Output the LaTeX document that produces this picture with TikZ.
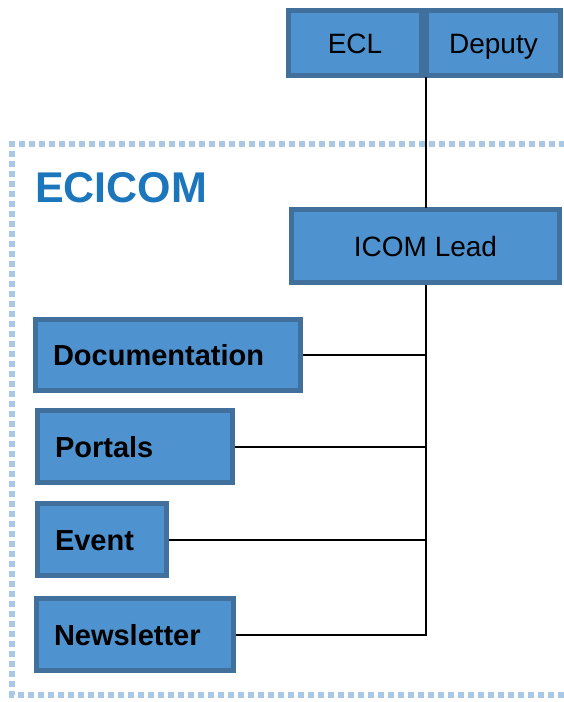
\documentclass[tikz,border=0pt]{standalone}
\usepackage{fontspec}
\setmainfont{Liberation Sans}
\definecolor{boxfill}{HTML}{4E93CF}
\definecolor{boxline}{HTML}{41709C}
\definecolor{framecol}{HTML}{A9C8E6}
\definecolor{titlecol}{HTML}{1B76BC}
\tikzset{
  box/.style={draw=boxline, fill=boxfill, line width=5pt, inner sep=0pt, text=black},
  topbox/.style={box, font=\fontsize{28}{30}\selectfont, align=center, text height=20pt, text depth=0pt},
  leftbox/.style={box, font=\bfseries\fontsize{29}{31}\selectfont, inner xsep=17.5pt, align=left, text height=21pt, text depth=0pt},
  conn/.style={draw=black, line width=2pt},
  frame/.style={draw=framecol, line width=6pt, dash pattern=on 6pt off 4pt}
}
\begin{document}
\begin{tikzpicture}[x=1pt, y=-1pt]
\useasboundingbox (0,0) rectangle (564,702);
% dotted frame
\draw[frame] (575,144) -- (12,144) -- (12,695) -- (575,695);
\node[anchor=base west, inner sep=0pt, text=titlecol, font=\bfseries\fontsize{43}{45}\selectfont] (title) at (35,202) {ECICOM};
% top boxes
\node[topbox, minimum width=133pt, minimum height=65pt] (ecl) at (355,43) {ECL};
\node[topbox, minimum width=134pt, minimum height=65pt] (deputy) at (493.5,43) {Deputy};
\node[topbox, minimum width=268pt, minimum height=73pt] (lead) at (425.5,246) {ICOM Lead};
% left boxes
\node[leftbox, text width=230pt, minimum height=71pt] (doc) at (168,355) {Documentation};
\node[leftbox, text width=160pt, minimum height=72pt] (portals) at (135,446.5) {Portals};
\node[leftbox, text width=94pt, minimum height=72pt] (event) at (102,539.5) {Event};
\node[leftbox, text width=162pt, minimum height=72pt] (news) at (135,634.5) {Newsletter};
% connectors
\coordinate (top) at (426,77);
\coordinate (leadtop) at (426,207.5);
\coordinate (leadbot) at (426,284.5);
\coordinate (jdoc) at (426,355);
\coordinate (jportals) at (426,446.5);
\coordinate (jevent) at (426,539.5);
\coordinate (jnews) at (426,634.5);
\draw[conn] (top) -- (leadtop);
\draw[conn] (leadbot) -- (jnews);
\draw[conn] (doc.east) -- (jdoc);
\draw[conn] (portals.east) -- (jportals);
\draw[conn] (event.east) -- (jevent);
\draw[conn, line join=miter] (news.east) -- (jnews) -- ++(0,-1);
\end{tikzpicture}
\end{document}
